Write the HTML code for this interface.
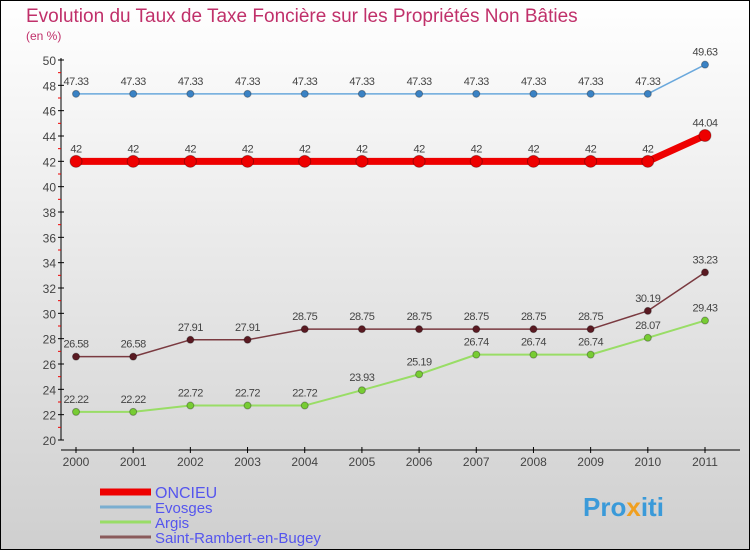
<!DOCTYPE html>
<html><head><meta charset="utf-8"><style>
body{margin:0}
svg{display:block;font-family:"Liberation Sans",sans-serif}
</style></head><body>
<svg id="c" width="750" height="550">
<defs><linearGradient id="bg" x1="0" y1="0" x2="0" y2="1"><stop offset="0" stop-color="#ffffff"/><stop offset="1" stop-color="#cfcfcf"/></linearGradient></defs>
<rect x="0.5" y="0.5" width="749" height="549" fill="url(#bg)" stroke="#000"/>
<text x="26" y="22" font-size="19" fill="#c0306a">Evolution du Taux de Taxe Foncière sur les Propriétés Non Bâties</text>
<text x="26" y="40" font-size="12" fill="#c0306a">(en %)</text>
<g id="axes"></g><g id="series"></g>
<g id="legend"></g>
<text x="583" y="516" font-size="26" font-weight="bold" fill="#3a9ad9">Pro<tspan fill="#f0a020">x</tspan>iti</text>
</svg>
<script>
const years=[2000,2001,2002,2003,2004,2005,2006,2007,2008,2009,2010,2011];
const yTicks=[20,22,24,26,28,30,32,34,36,38,40,42,44,46,48,50];
const onc=[42,42,42,42,42,42,42,42,42,42,42,44.04];
const evo=[47.33,47.33,47.33,47.33,47.33,47.33,47.33,47.33,47.33,47.33,47.33,49.63];
const arg=[22.22,22.22,22.72,22.72,22.72,23.93,25.19,26.74,26.74,26.74,28.07,29.43];
const sai=[26.58,26.58,27.91,27.91,28.75,28.75,28.75,28.75,28.75,28.75,30.19,33.23];
const NS="http://www.w3.org/2000/svg";
const xs=i=>76+i*(705-76)/(years.length-1);
const ys=v=>440-(v-20)*(380/30);
function el(t,a,p){const e=document.createElementNS(NS,t);for(const k in a)e.setAttribute(k,a[k]);p.appendChild(e);return e;}
const ax=document.getElementById('axes');
const ya=el('line',{x1:61,y1:58,x2:61,y2:440,stroke:'#000'},ax);


yTicks.forEach(v=>{
 el('line',{x1:58,x2:64,y1:ys(v),y2:ys(v),stroke:'#000'},ax);
 if(v<50) el('line',{x1:58,x2:61,y1:ys(v+1),y2:ys(v+1),stroke:'#e00'},ax);
 const t=el('text',{x:56,y:ys(v)+5,'font-size':12,fill:'#444','text-anchor':'end'},ax);t.textContent=v;
 
 
});
const xa=el('line',{x1:61,y1:450,x2:740,y2:450,stroke:'#000'},ax);


years.forEach((y,i)=>{
 el('line',{x1:xs(i),x2:xs(i),y1:447,y2:453,stroke:'#000'},ax);
 const t=el('text',{x:xs(i),y:466,'font-size':12,fill:'#444','text-anchor':'middle'},ax);t.textContent=y;
 
 
});
const sg=document.getElementById('series');
function series(d,col,w,r,dot,name){
 const g=el('g',{},sg);
 
 
 el('polyline',{points:d.map((v,i)=>xs(i)+','+ys(v)).join(' '),fill:'none',stroke:col,'stroke-width':w,'stroke-linejoin':'round'},g);
 d.forEach((v,i)=>{
  const c=el('circle',{cx:xs(i),cy:ys(v),r:r,fill:dot,stroke:'rgba(0,0,0,0.3)'},g);
  
  
  const t=el('text',{x:xs(i),y:ys(v)-9,'font-size':11,fill:'#444','text-anchor':'middle','letter-spacing':'-0.5'},g);
  t.textContent=String(v);
  
  
 });
}
series(evo,'#6aa8dc',1.5,3.5,'#3a82c4','series-evosges');
series(onc,'#ee0000',7,6,'#ee0000','series-oncieu');
series(sai,'#7a3a40',1.5,3.5,'#5a1a22','series-saint-rambert');
series(arg,'#99dd66',2,3.5,'#77cc33','series-argis');
const lg=document.getElementById('legend');
[['ONCIEU','#ee0000',7],['Evosges','#7aaed0',3],['Argis','#99dd66',3],['Saint-Rambert-en-Bugey','#8a5a5a',3]].forEach((e,i)=>{
 const y=492+i*15;
 const g=el('g',{},lg);
 
 
 el('line',{x1:100,x2:151,y1:y,y2:y,stroke:e[1],'stroke-width':e[2]},g);
 const t=el('text',{x:155,y:y+6,'font-size':i==0?16:15,fill:'#5555ee'},g);t.textContent=e[0];
});
</script>
</body></html>
